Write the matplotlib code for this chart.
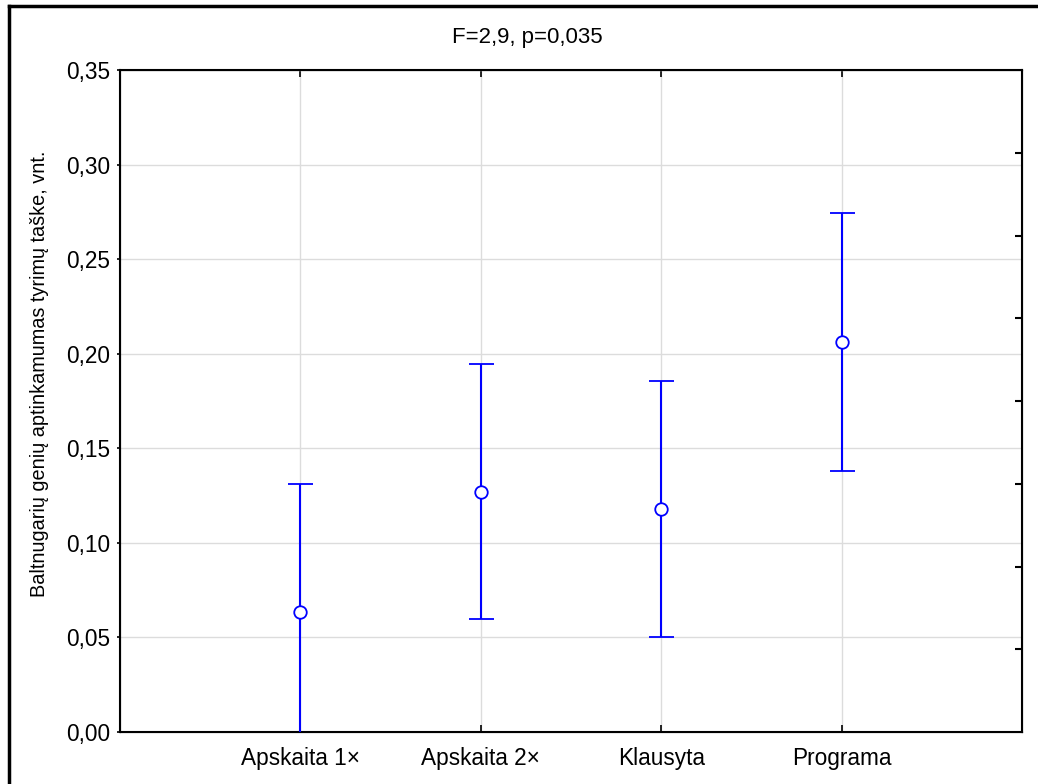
import matplotlib.pyplot as plt
from matplotlib import lines
from matplotlib.ticker import FuncFormatter

plt.rcParams['font.family'] = ['Liberation Sans', 'DejaVu Sans']

# ______________________________________________________________________________
# Data

categories = ['Apskaita 1×', 'Apskaita 2×', 'Klausyta', 'Programa']
means = [0.0635, 0.127, 0.118, 0.2064]
lower = [-0.004, 0.0598, 0.0502, 0.138]
upper = [0.131, 0.1946, 0.1856, 0.2746]
y_ticks = [0.00, 0.05, 0.10, 0.15, 0.20, 0.25, 0.30, 0.35]
title = 'F=2,9, p=0,035'
y_label = 'Baltnugarių genių aptinkamumas tyrimų taške, vnt.'

fig = plt.figure(figsize=(10.38, 7.84), dpi=100)
ax = fig.add_axes([120 / 1038, 52 / 784, 902 / 1038, 662 / 784])

x = list(range(1, len(categories) + 1))
err = [[m - lo for m, lo in zip(means, lower)], [up - m for m, up in zip(means, upper)]]
ax.errorbar(x, means, yerr=err, fmt='o', color='#0000ff', mfc='white', mec='#0000ff',
            markersize=9, mew=1.3, elinewidth=1.5, capsize=9, capthick=1.5, zorder=3)

ax.set_xlim(0, len(categories) + 1)
ax.set_ylim(0, 0.35)
ax.set_xticks(x)
ax.set_xticklabels(categories)
ax.set_yticks(y_ticks)
ax.yaxis.set_major_formatter(FuncFormatter(lambda v, pos: '{0:.2f}'.format(v).replace('.', ',')))
ax.grid(True, color='#dcdcdc', linewidth=1)
ax.set_axisbelow(True)

for spine in ax.spines.values():
    spine.set_linewidth(1.5)
ax.tick_params(axis='x', direction='in', top=True, length=5, width=1.2, labelsize=16.3, pad=11)
ax.tick_params(axis='y', direction='out', length=2, width=1.2, labelsize=16.3, pad=5)

# minor ticks on the right edge, 8 divisions
ax2 = ax.twinx()
ax2.set_ylim(0, 8)
ax2.set_yticks(range(1, 8))
ax2.tick_params(axis='y', direction='in', length=5, width=1.5, labelright=False)

fig.text(527 / 1038, 1 - 38 / 784, title, fontsize=16, ha='center', va='center')
ax.set_ylabel(y_label, fontsize=14.3)
ax.yaxis.set_label_coords(-0.079, 0.541)

# frame on left and top of the figure
fig.add_artist(lines.Line2D([9 / 1038, 9 / 1038], [0, 778 / 784], color='black', linewidth=2.5))
fig.add_artist(lines.Line2D([9 / 1038, 1], [778 / 784, 778 / 784], color='black', linewidth=2.5))

fig.savefig('out.png', dpi=100)
